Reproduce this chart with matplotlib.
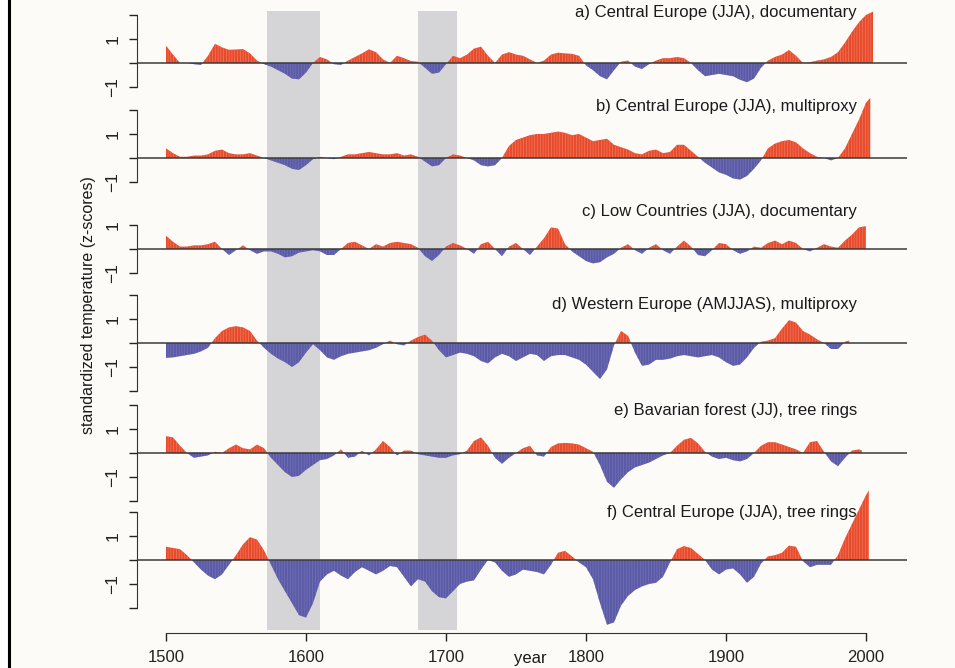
import numpy as np
import matplotlib.pyplot as plt
from matplotlib.lines import Line2D
from matplotlib.patches import Rectangle

plt.rcParams['font.family'] = ['Liberation Sans', 'DejaVu Sans']
plt.rcParams['hatch.linewidth'] = 0.5

# --- data (z-scores, 5-year steps) ---
years_a = list(range(1500, 2001, 5)) + [2005]
vals_a = [0.72, 0.35, 0.0, 0.0, -0.05, -0.08, 0.3, 0.8, 0.65, 0.55,
          0.56, 0.58, 0.4, 0.1, -0.05, -0.15, -0.3, -0.45, -0.65, -0.68,
          -0.4, 0.0, 0.25, 0.15, -0.05, -0.08, 0.1, 0.25, 0.4, 0.57,
          0.45, 0.15, 0.0, 0.3, 0.2, 0.08, 0.05, -0.2, -0.45, -0.4,
          -0.05, 0.3, 0.2, 0.35, 0.6, 0.68, 0.3, 0.0, 0.35, 0.45,
          0.35, 0.3, 0.15, 0.0, 0.1, 0.35, 0.43, 0.4, 0.38, 0.3,
          -0.1, -0.3, -0.55, -0.68, -0.3, 0.05, 0.1, -0.15, -0.25, -0.05,
          0.1, 0.2, 0.2, 0.25, 0.2, 0.0, -0.3, -0.55, -0.5, -0.45,
          -0.5, -0.55, -0.7, -0.8, -0.65, -0.2, 0.1, 0.25, 0.35, 0.54,
          0.3, 0.0, 0.03, 0.1, 0.15, 0.25, 0.45, 0.85, 1.3, 1.7,
          2.0, 2.14]

years_b = list(range(1500, 2001, 5)) + [2003]
vals_b = [0.4, 0.2, 0.05, 0.05, 0.1, 0.1, 0.15, 0.3, 0.35, 0.2,
          0.15, 0.15, 0.2, 0.1, 0.0, -0.1, -0.2, -0.3, -0.45, -0.5,
          -0.3, -0.05, 0.05, 0.0, -0.05, 0.05, 0.15, 0.15, 0.2, 0.25,
          0.2, 0.15, 0.15, 0.2, 0.1, 0.15, 0.05, -0.15, -0.35, -0.3,
          0.0, 0.15, 0.1, 0.0, -0.1, -0.3, -0.35, -0.3, 0.0, 0.5,
          0.75, 0.85, 0.95, 1.0, 1.0, 1.05, 1.1, 1.05, 0.95, 1.0,
          0.85, 0.7, 0.75, 0.8, 0.55, 0.45, 0.35, 0.2, 0.15, 0.3,
          0.35, 0.2, 0.25, 0.55, 0.55, 0.3, 0.05, -0.2, -0.4, -0.6,
          -0.7, -0.85, -0.9, -0.75, -0.45, -0.1, 0.4, 0.6, 0.7, 0.75,
          0.65, 0.4, 0.2, 0.05, 0.0, -0.1, 0.0, 0.4, 1.0, 1.6,
          2.3, 2.5]

years_c = list(range(1500, 2001, 5))
vals_c = [0.55, 0.3, 0.1, 0.1, 0.15, 0.15, 0.2, 0.3, 0.0, -0.25,
          -0.05, 0.15, -0.05, -0.2, -0.1, -0.1, -0.2, -0.35, -0.3, -0.15,
          -0.1, -0.05, -0.1, -0.25, -0.25, 0.0, 0.25, 0.3, 0.15, 0.0,
          0.2, 0.1, 0.25, 0.3, 0.25, 0.2, 0.05, -0.3, -0.5, -0.25,
          0.1, 0.25, 0.15, 0.0, -0.2, 0.2, 0.3, 0.0, -0.3, 0.1,
          0.25, 0.0, -0.25, 0.1, 0.45, 0.9, 0.85, 0.2, -0.1, -0.3,
          -0.5, -0.6, -0.55, -0.35, -0.2, 0.05, 0.2, -0.05, -0.2, 0.05,
          0.2, -0.05, -0.2, 0.1, 0.35, 0.1, -0.25, -0.3, -0.05, 0.25,
          0.2, -0.05, -0.2, -0.1, 0.1, 0.05, 0.25, 0.35, 0.2, 0.35,
          0.25, 0.0, -0.1, 0.05, 0.2, 0.1, 0.05, 0.35, 0.6, 0.9,
          0.95]

years_d = list(range(1500, 1986, 5)) + [1988]
vals_d = [-0.62, -0.6, -0.55, -0.5, -0.45, -0.35, -0.2, 0.2, 0.5, 0.65,
          0.7, 0.65, 0.5, 0.1, -0.2, -0.45, -0.65, -0.8, -1.0, -0.8,
          -0.4, -0.05, -0.3, -0.6, -0.7, -0.55, -0.45, -0.4, -0.35, -0.3,
          -0.2, -0.05, 0.1, -0.05, -0.1, 0.1, 0.25, 0.35, 0.1, -0.3,
          -0.6, -0.5, -0.4, -0.45, -0.55, -0.75, -0.85, -0.6, -0.45, -0.55,
          -0.75, -0.6, -0.45, -0.5, -0.75, -0.55, -0.5, -0.5, -0.6, -0.7,
          -0.9, -1.2, -1.5, -1.1, -0.1, 0.5, 0.3, -0.4, -0.95, -0.9,
          -0.7, -0.7, -0.65, -0.55, -0.5, -0.55, -0.6, -0.55, -0.5, -0.6,
          -0.8, -0.95, -0.9, -0.6, -0.2, 0.05, 0.1, 0.2, 0.6, 0.95,
          0.85, 0.5, 0.35, 0.15, 0.0, -0.25, -0.25, 0.05, 0.1]

years_e = list(range(1500, 1996, 5)) + [1997]
vals_e = [0.7, 0.65, 0.3, 0.0, -0.2, -0.15, -0.1, 0.05, 0.0, 0.2,
          0.35, 0.2, 0.15, 0.35, 0.2, -0.2, -0.5, -0.8, -1.0, -0.95,
          -0.7, -0.5, -0.3, -0.25, -0.1, 0.15, -0.2, -0.15, 0.1, -0.1,
          0.15, 0.5, 0.25, -0.1, 0.1, 0.1, -0.05, -0.1, -0.15, -0.2,
          -0.2, -0.1, -0.05, 0.1, 0.5, 0.65, 0.3, -0.2, -0.45, -0.2,
          0.0, 0.2, 0.3, -0.1, -0.15, 0.25, 0.4, 0.42, 0.4, 0.35,
          0.2, 0.05, -0.5, -1.2, -1.45, -1.1, -0.8, -0.6, -0.5, -0.4,
          -0.25, -0.1, 0.0, 0.3, 0.55, 0.63, 0.4, 0.05, -0.15, -0.25,
          -0.2, -0.3, -0.35, -0.25, 0.0, 0.3, 0.45, 0.45, 0.35, 0.25,
          0.15, 0.0, 0.45, 0.5, 0.05, -0.35, -0.55, -0.2, 0.1, 0.15,
          0.1]

years_f = list(range(1500, 2001, 5)) + [2002]
vals_f = [0.55, 0.5, 0.45, 0.2, -0.1, -0.4, -0.65, -0.8, -0.6, -0.2,
          0.2, 0.65, 0.95, 0.85, 0.4, -0.2, -0.8, -1.3, -1.8, -2.3,
          -2.4, -1.8, -0.9, -0.6, -0.45, -0.65, -0.8, -0.5, -0.3, -0.45,
          -0.6, -0.45, -0.25, -0.3, -0.7, -1.1, -0.8, -0.9, -1.3, -1.55,
          -1.6, -1.3, -1.0, -0.9, -0.85, -0.4, 0.0, -0.1, -0.45, -0.7,
          -0.6, -0.4, -0.45, -0.5, -0.6, -0.2, 0.3, 0.38, 0.15, -0.1,
          -0.3, -0.8, -1.8, -2.7, -2.6, -1.9, -1.5, -1.25, -1.1, -1.0,
          -0.95, -0.7, -0.1, 0.45, 0.58, 0.5, 0.25, 0.0, -0.4, -0.6,
          -0.4, -0.35, -0.6, -0.95, -0.7, -0.15, 0.15, 0.2, 0.3, 0.6,
          0.55, -0.05, -0.3, -0.2, -0.2, -0.2, 0.2, 0.9, 1.5, 2.1,
          2.7, 2.9]

labels = ['a) Central Europe (JJA), documentary',
          'b) Central Europe (JJA), multiproxy',
          'c) Low Countries (JJA), documentary',
          'd) Western Europe (AMJJAS), multiproxy',
          'e) Bavarian forest (JJ), tree rings',
          'f) Central Europe (JJA), tree rings']
shade_periods = [(1572, 1610), (1680, 1708)]
year_ticks = [1500, 1600, 1700, 1800, 1900, 2000]

# --- layout in pixels ---
W, H = 955, 668
X0, X1 = 137, 907
PX_PER_YEAR = 1.4
XLIM = (1500 + (X0 - 166) / PX_PER_YEAR, 1500 + (X1 - 166) / PX_PER_YEAR)
SCALE = 24.0  # px per z unit

panels = [
    (years_a, vals_a, 63, -1, 2, 13),
    (years_b, vals_b, 158, -1, 2, 107),
    (years_c, vals_c, 249, -1, 1, 212),
    (years_d, vals_d, 343, -2, 2, 305),
    (years_e, vals_e, 453, -2, 2, 410),
    (years_f, vals_f, 560, -2, 2, 512),
]

RED = '#e84a2c'
BLUE = '#5b5aa6'
SHADE = '#d5d5d8'


def px_rect(left, top, right, bottom):
    return [left / W, 1 - bottom / H, (right - left) / W, (bottom - top) / H]


fig = plt.figure(figsize=(W / 100, H / 100), dpi=100, facecolor='#fcfbf8')

# background axes: shaded periods and the year axis
bg = fig.add_axes(px_rect(X0, 11, X1, 633))
bg.set_facecolor('none')
bg.set_xlim(XLIM)
bg.set_ylim(0, 1)
for start, end in shade_periods:
    bg.axvspan(start, end, ymin=0.005, color=SHADE, lw=0)
for side in ['top', 'right', 'left']:
    bg.spines[side].set_visible(False)
bg.spines['bottom'].set_bounds(1500, 2000)
bg.spines['bottom'].set_color('#333333')
bg.set_yticks([])
bg.set_xticks(year_ticks)
bg.tick_params(axis='x', direction='out', length=6, width=1, pad=6,
               labelsize=12, colors='#222222')

for (yrs, vals, zero_px, s_lo, s_hi, lab_y), lab in zip(panels, labels):
    x = np.array(yrs, dtype=float)
    y = np.array(vals)
    lo = min(y.min(), s_lo) - 0.1
    hi = max(y.max(), s_hi) + 0.1
    ax = fig.add_axes(px_rect(X0, zero_px - hi * SCALE, X1, zero_px - lo * SCALE))
    ax.set_facecolor('none')
    ax.set_xlim(XLIM)
    ax.set_ylim(lo, hi)

    ax.fill_between(x, y, 0, where=y >= 0, interpolate=True, color=RED, lw=0)
    ax.fill_between(x, y, 0, where=y <= 0, interpolate=True, color=BLUE, lw=0)
    ax.fill_between(x, y, 0, where=y >= 0, interpolate=True, facecolor='none',
                    edgecolor='#f27a5e', hatch='||||||', lw=0)
    ax.fill_between(x, y, 0, where=y <= 0, interpolate=True, facecolor='none',
                    edgecolor='#7473b8', hatch='||||||', lw=0)
    ax.axhline(0, color='#3a3a3a', lw=1.1)

    for side in ['top', 'right', 'bottom']:
        ax.spines[side].set_visible(False)
    ax.spines['left'].set_bounds(s_lo, s_hi)
    ax.spines['left'].set_color('#333333')
    ticks = list(range(s_lo, s_hi + 1))
    ax.set_yticks(ticks)
    ax.set_yticklabels(['1' if t == 1 else ('\u22121' if t == -1 else '')
                        for t in ticks], rotation=90, va='center')
    ax.tick_params(axis='y', direction='out', length=6, width=1, pad=6,
                   labelsize=12.5, colors='#222222')
    ax.set_xticks([])

    fig.text(857 / W, 1 - lab_y / H, lab, ha='right', va='center',
             fontsize=12, color='#1a1a1a')

fig.text(88 / W, 1 - 305 / H, 'standardized temperature (z-scores)',
         rotation=90, ha='center', va='center', fontsize=11.5, color='#1a1a1a')
fig.text(530 / W, 1 - 659 / H, 'year', ha='center', va='center',
         fontsize=12, color='#1a1a1a')

# white margin and black frame line on the left
fig.add_artist(Rectangle((0, 0), 7 / W, 1, transform=fig.transFigure,
                         color='white', lw=0))
fig.add_artist(Line2D([8.5 / W, 8.5 / W], [0, 1], transform=fig.transFigure,
                      color='black', lw=2.2))

fig.savefig('out.png', dpi=100, facecolor=fig.get_facecolor())
